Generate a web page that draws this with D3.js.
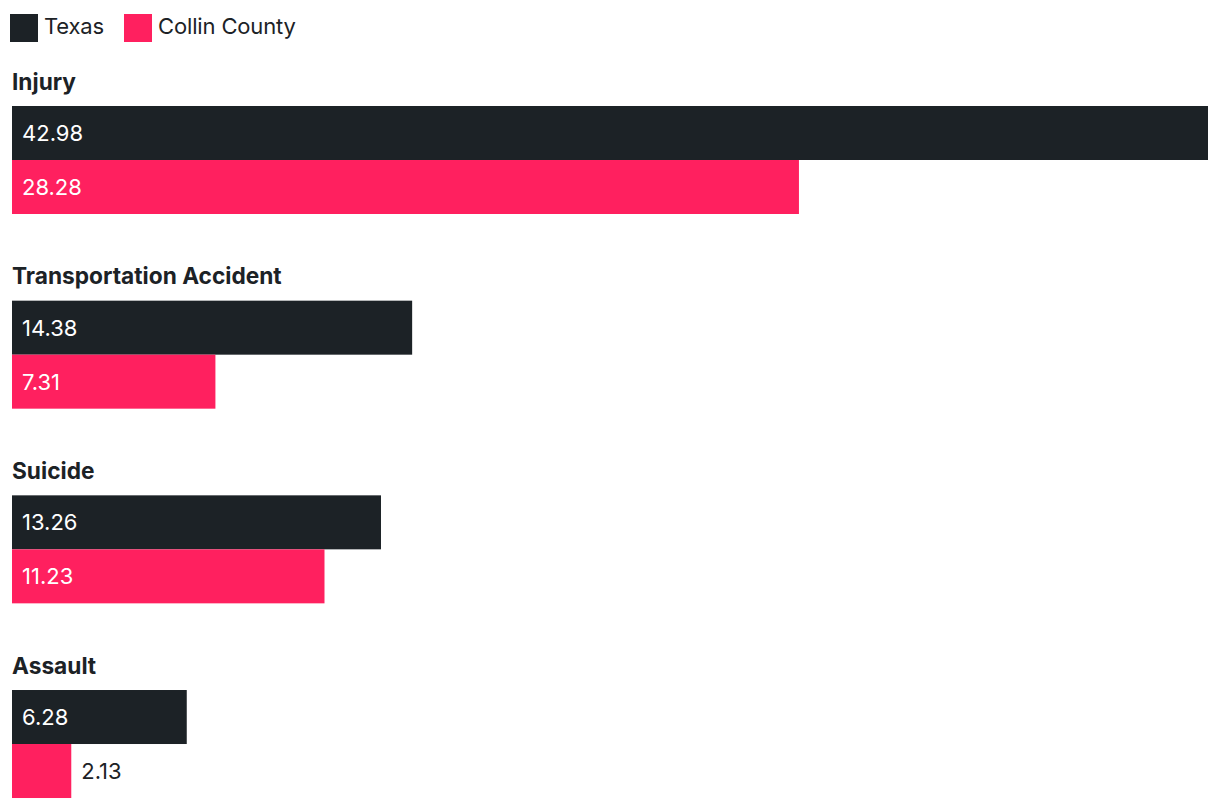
<!DOCTYPE html>
<html>
<head>
<meta charset="utf-8">
<script src="https://cdn.jsdelivr.net/npm/d3@7"></script>
<style>
  html, body { margin: 0; padding: 0; background: #fff; }
  svg { display: block; font-family: Inter, "Noto Sans", sans-serif; }
</style>
</head>
<body>
<svg id="chart" width="1220" height="808"></svg>
<script>
const categories = ["Injury", "Transportation Accident", "Suicide", "Assault"];
const seriesNames = ["Texas", "Collin County"];
const texasValues = [42.98, 14.38, 13.26, 6.28];
const collinValues = [28.28, 7.31, 11.23, 2.13];
const seriesColors = ["#1c2226", "#ff205f"];

const svg = d3.select("#chart");

// Legend
const legend = svg.append("g");
const legendX = [10, 124];
seriesNames.forEach((name, i) => {
  legend.append("rect").attr("x", legendX[i]).attr("y", 14).attr("width", 28).attr("height", 28).attr("fill", seriesColors[i]);
  legend.append("text").attr("x", legendX[i] + 34).attr("y", 34)
    .attr("font-size", 22).attr("letter-spacing", "-0.15").attr("fill", "#1c2226").text(name);
});

const x = d3.scaleLinear().domain([0, d3.max(texasValues)]).range([12, 1208]);
const step = 194.67;
const y0 = d3.scaleBand().domain(categories).range([60, 60 + step * categories.length]).paddingInner(0);
const y1 = d3.scaleBand().domain(seriesNames).range([46, 154]).padding(0);

const data = categories.map((c, i) => ({ cat: c, vals: [texasValues[i], collinValues[i]] }));

const groups = svg.selectAll("g.grp").data(data).join("g").attr("class", "grp")
  .attr("transform", d => `translate(0,${y0(d.cat)})`);

groups.append("text").attr("x", 12).attr("y", 29.5)
  .attr("font-size", 22.7).attr("font-weight", 700).attr("fill", "#1c2226")
  .text(d => d.cat);

groups.each(function(d) {
  const g = d3.select(this);
  d.vals.forEach((v, j) => {
    const yy = y1(seriesNames[j]);
    const h = y1.bandwidth();
    const bw = x(v) - x(0);
    g.append("rect").attr("x", x(0)).attr("y", yy).attr("width", bw).attr("height", h).attr("fill", seriesColors[j]);
    const t = g.append("text").attr("y", yy + h / 2).attr("dy", "0.36em")
      .attr("font-size", 22).text(v.toFixed(2));
    const tw = t.node().getComputedTextLength();
    if (tw + 20 <= bw) {
      t.attr("x", x(0) + 10).attr("fill", "#ffffff");
    } else {
      t.attr("x", x(v) + 10).attr("fill", "#1c2226");
    }
  });
});
</script>
</body>
</html>
